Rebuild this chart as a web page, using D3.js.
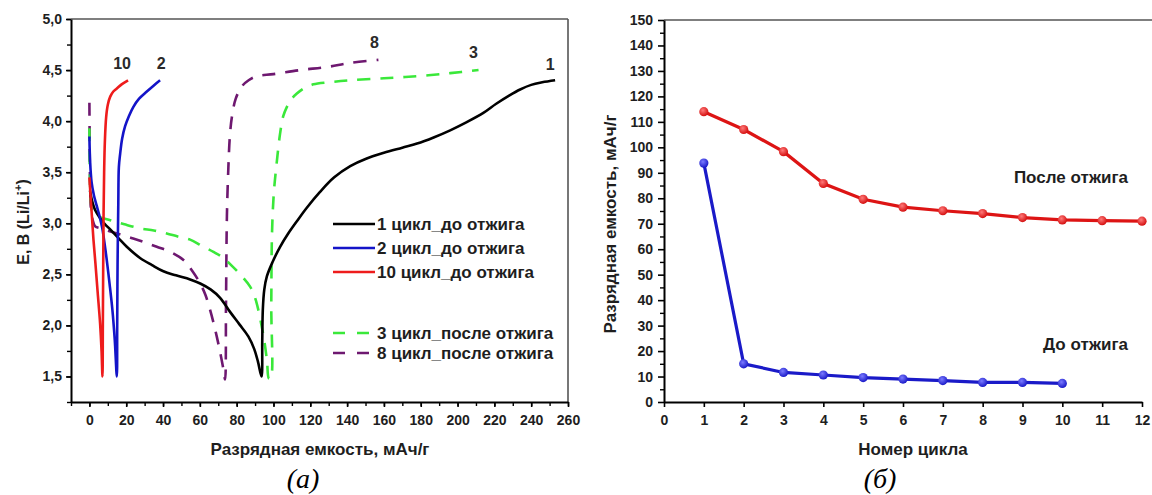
<!DOCTYPE html>
<html><head><meta charset="utf-8">
<script src="https://cdn.jsdelivr.net/npm/d3@7"></script>
<style>
html,body{margin:0;padding:0;background:#fff;}
svg{display:block;font-family:"Liberation Sans",Arial,sans-serif;}
</style></head>
<body>
<svg id="chart" width="1152" height="495"></svg>
<script>
// ---------- DATA: panel (a) — discharge/charge curves [capacity mAh/g, E V] ----------
const cycle1Before = [[0.3,3.32],[1.3,3.23],[3.1,3.13],[5.8,3.05],[8.5,2.99],[11.3,2.94],[16,2.85],[20.3,2.77],[27.5,2.66],[34,2.59],[40.2,2.53],[47,2.49],[54.7,2.45],[60.2,2.41],[66,2.35],[71,2.27],[76.5,2.13],[81.5,2.01],[86.4,1.89],[89.5,1.77],[91.5,1.65],[93.5,1.5],[93.9,1.85],[94.2,2.15],[95,2.35],[96.4,2.48],[99.5,2.62],[103.6,2.77],[108,2.9],[112.7,3.02],[118,3.15],[125.4,3.31],[133,3.45],[141.7,3.56],[150,3.63],[160,3.69],[170,3.74],[178,3.78],[187,3.84],[196,3.91],[205,3.99],[214,4.08],[221,4.17],[228,4.25],[234,4.31],[240,4.355],[246,4.38],[253,4.40]];
const cycle2Before = [[0,3.85],[0.4,3.6],[1.2,3.4],[2.5,3.27],[4,3.17],[5.5,3.07],[7,2.95],[9,2.7],[11,2.4],[12.5,2.15],[13.8,1.85],[14.9,1.5],[15.1,2.0],[15.3,2.6],[15.7,3.2],[16.0,3.55],[16.7,3.68],[17.8,3.83],[19.4,3.95],[21.5,4.05],[23.9,4.14],[27,4.22],[31.2,4.29],[35,4.35],[38.4,4.40]];
const cycle10Before = [[0,3.45],[0.8,3.22],[1.5,3.03],[2.2,2.84],[3.3,2.6],[4.5,2.32],[5.8,2.02],[6.6,1.75],[7.1,1.5],[7.3,2.0],[7.5,2.6],[7.7,3.1],[8.0,3.5],[8.4,3.8],[9.1,4.04],[10,4.16],[11.3,4.24],[13,4.29],[14.9,4.32],[17.5,4.36],[21,4.40]];
const cycle3After = [[0,3.93],[0.1,3.7],[0.3,3.45],[0.8,3.22],[2,3.1],[5.8,3.06],[11.3,3.03],[19,2.99],[27.6,2.95],[35,2.93],[42,2.9],[48,2.87],[54.7,2.84],[61,2.78],[67.4,2.72],[72.8,2.66],[77,2.59],[81.9,2.5],[87.3,2.38],[90,2.27],[91.8,2.15],[93.5,2.0],[95,1.85],[96.5,1.65],[97.5,1.48],[98.5,1.48],[98.8,2.2],[99.2,2.9],[100.2,3.3],[101.8,3.6],[103.6,3.88],[105.3,4.05],[107.3,4.14],[109.5,4.21],[112.7,4.27],[116.5,4.32],[121.7,4.36],[130,4.38],[141.7,4.40],[160,4.42],[178,4.44],[196,4.47],[211.4,4.50]];
const cycle8After = [[0,4.18],[0.1,3.9],[0.2,3.6],[0.4,3.35],[0.8,3.15],[1.8,3.03],[3.1,2.97],[6,2.95],[9.4,2.93],[15,2.9],[22.1,2.86],[29,2.82],[36.6,2.77],[44,2.72],[51.1,2.64],[56,2.53],[60.2,2.41],[63,2.3],[65.6,2.15],[67.5,2.02],[69.2,1.89],[71,1.74],[72.8,1.57],[73.7,1.47],[74.2,2.2],[74.7,3.07],[75.5,3.55],[76.3,3.85],[77.4,4.04],[79.5,4.22],[82.8,4.34],[86.5,4.4],[91,4.44],[100,4.46],[114.5,4.5],[129,4.53],[141.7,4.57],[157,4.60]];

const legendLabels = ["1 цикл_до отжига","2 цикл_до отжига","10 цикл_до отжига","3 цикл_после отжига","8 цикл_после отжига"];
const curveNumbers = ["1","2","10","3","8"];
const xTicksA = [0,20,40,60,80,100,120,140,160,180,200,220,240,260];
const yTicksA = [1.5,2.0,2.5,3.0,3.5,4.0,4.5,5.0];

// ---------- DATA: panel (б) — capacity vs cycle number ----------
const cycleNumbers = [1,2,3,4,5,6,7,8,9,10,11,12];
const capacityAfter = [114,107,98.3,85.8,79.6,76.5,75.1,74.0,72.4,71.5,71.2,71.0];
const capacityBefore = [93.8,15.0,11.6,10.6,9.6,9.0,8.4,7.7,7.7,7.3];
const xTicksB = [0,1,2,3,4,5,6,7,8,9,10,11,12];
const yTicksB = [0,10,20,30,40,50,60,70,80,90,100,110,120,130,140,150];

// ---------- STYLE ----------
const svg = d3.select("#chart");
const txt = "#1e1e1e";
const tickFont = 14, labFont = 17;
const curveColors = ["#000000","#1414c8","#ee1c1c","#3ae83a","#6e1870"];
const curveDash = [null,null,null,"13,10","13,10"];

// ===== Panel (a) =====
const xA = d3.scaleLinear().domain([-10,260]).range([71,568]);
const yA = d3.scaleLinear().domain([1.25,5]).range([402,19]);
const gA = svg.append("g");

gA.append("line").attr("x1",xA(-10)).attr("x2",xA(260)).attr("y1",yA(5)).attr("y2",yA(5)).attr("stroke","#555").attr("stroke-width",1.6);
gA.append("line").attr("x1",xA(260)).attr("x2",xA(260)).attr("y1",yA(5)).attr("y2",yA(1.25)).attr("stroke","#555").attr("stroke-width",1.6);

const fmtComma = d => d.toFixed(1).replace(".",",");
gA.append("g").attr("transform",`translate(0,${yA(1.25)})`)
  .call(d3.axisBottom(xA).tickValues(d3.range(-10,261,10)).tickFormat("").tickSize(4).tickSizeOuter(0))
  .call(g=>g.select(".domain").remove()).selectAll("line").attr("stroke","#000").attr("stroke-width",1.4);
gA.append("g").attr("transform",`translate(${xA(-10)},0)`)
  .call(d3.axisLeft(yA).tickValues(d3.range(1.25,5.01,0.25)).tickFormat("").tickSize(4).tickSizeOuter(0))
  .call(g=>g.select(".domain").remove()).selectAll("line").attr("stroke","#000").attr("stroke-width",1.4);
const axXA = gA.append("g").attr("transform",`translate(0,${yA(1.25)})`)
  .call(d3.axisBottom(xA).tickValues(xTicksA).tickFormat(d3.format("d")).tickSize(5).tickPadding(8).tickSizeOuter(0));
const axYA = gA.append("g").attr("transform",`translate(${xA(-10)},0)`)
  .call(d3.axisLeft(yA).tickValues(yTicksA).tickFormat(fmtComma).tickSize(5).tickPadding(4).tickSizeOuter(0));
[axXA,axYA].forEach(a=>{
  a.select(".domain").attr("stroke","#000").attr("stroke-width",2);
  a.selectAll("line").attr("stroke","#000").attr("stroke-width",1.6);
  a.selectAll("text").attr("fill",txt).attr("font-size",tickFont).attr("font-weight","bold").attr("font-family","'Liberation Sans',Arial,sans-serif");
});

const lineA = d3.line().x(d=>xA(d[0])).y(d=>yA(d[1])).curve(d3.curveCatmullRom.alpha(0.5));
const seriesA = [cycle1Before,cycle2Before,cycle10Before,cycle3After,cycle8After];
const drawOrder = [4,3,0,1,2];
drawOrder.forEach(i=>{
  gA.append("path").datum(seriesA[i]).attr("d",lineA).attr("fill","none")
    .attr("stroke",curveColors[i]).attr("stroke-width",2.6)
    .attr("stroke-dasharray",curveDash[i]).attr("stroke-linejoin","round");
});

const numOffsets = [[-5,-16],[1,-17],[-6,-17],[-5,-18],[-4,-17]];
seriesA.forEach((s,i)=>{
  const last = s[s.length-1];
  gA.append("text").attr("x",xA(last[0])+numOffsets[i][0]).attr("y",yA(last[1])+numOffsets[i][1])
    .attr("text-anchor","middle").attr("dy","0.35em").attr("font-size",16).attr("font-weight","bold")
    .attr("fill","#2a2a2a").text(curveNumbers[i]);
});

const legRows = [224,248,272,333,353];
legendLabels.forEach((lab,i)=>{
  gA.append("line").attr("x1",333).attr("x2",i<3?375:372).attr("y1",legRows[i]).attr("y2",legRows[i])
    .attr("stroke",curveColors[i]).attr("stroke-width",2.6).attr("stroke-dasharray",i<3?null:"12,12");
  gA.append("text").attr("x",377).attr("y",legRows[i]).attr("dy","0.36em").attr("font-size",labFont)
    .attr("font-weight","bold").attr("fill",txt).text(lab);
});

gA.append("text").attr("x",320).attr("y",449).attr("dy","0.35em").attr("text-anchor","middle")
  .attr("font-size",labFont).attr("font-weight","bold").attr("fill",txt).text("Разрядная емкость, мАч/г");
const yt = gA.append("text").attr("transform","translate(23,222) rotate(-90)").attr("text-anchor","middle")
  .attr("dy","0.35em").attr("font-size",16).attr("font-weight","bold").attr("fill",txt);
yt.append("tspan").text("E, B (Li/Li");
yt.append("tspan").attr("font-size",11).attr("dy","-0.6em").text("+");
yt.append("tspan").attr("dy","0.4em").text(")");

svg.append("text").attr("x",303).attr("y",488).attr("text-anchor","middle")
  .attr("font-family","'Liberation Serif','Times New Roman',serif").attr("font-style","italic")
  .attr("font-size",28).attr("fill","#000").text("(a)");

// ===== Panel (б) =====
const xB = d3.scaleLinear().domain([0,12]).range([664,1142]);
const yB = d3.scaleLinear().domain([0,150]).range([402,20]);
const gB = svg.append("g");

gB.append("line").attr("x1",xB(0)).attr("x2",1152).attr("y1",yB(150)).attr("y2",yB(150)).attr("stroke","#555").attr("stroke-width",1.6);

gB.append("g").attr("transform",`translate(${xB(0)},0)`)
  .call(d3.axisLeft(yB).tickValues(d3.range(5,150,10)).tickFormat("").tickSize(4).tickSizeOuter(0))
  .call(g=>g.select(".domain").remove()).selectAll("line").attr("stroke","#000").attr("stroke-width",1.4);
const axXB = gB.append("g").attr("transform",`translate(0,${yB(0)})`)
  .call(d3.axisBottom(xB).tickValues(xTicksB).tickFormat(d3.format("d")).tickSize(5).tickPadding(8).tickSizeOuter(0));
const axYB = gB.append("g").attr("transform",`translate(${xB(0)},0)`)
  .call(d3.axisLeft(yB).tickValues(yTicksB).tickFormat(d3.format("d")).tickSize(6).tickPadding(5).tickSizeOuter(0));
[axXB,axYB].forEach(a=>{
  a.select(".domain").attr("stroke","#000").attr("stroke-width",2);
  a.selectAll("line").attr("stroke","#000").attr("stroke-width",1.6);
  a.selectAll("text").attr("fill",txt).attr("font-size",tickFont).attr("font-weight","bold").attr("font-family","'Liberation Sans',Arial,sans-serif");
});

const defs = svg.append("defs");
function grad(id,light,dark){
  const g = defs.append("radialGradient").attr("id",id).attr("cx","40%").attr("cy","35%").attr("r","65%");
  g.append("stop").attr("offset","0%").attr("stop-color",light);
  g.append("stop").attr("offset","100%").attr("stop-color",dark);
}
grad("gRed","#ff7a7a","#d40f0f");
grad("gBlue","#7a7aff","#1a1ac8");

const lineB = d3.line().x(d=>xB(d[0])).y(d=>yB(d[1]));
const afterPts = cycleNumbers.map((c,i)=>[c,capacityAfter[i]]);
const beforePts = cycleNumbers.slice(0,capacityBefore.length).map((c,i)=>[c,capacityBefore[i]]);
[[afterPts,"#dd1414","url(#gRed)"],[beforePts,"#1a1ac8","url(#gBlue)"]].forEach(([pts,col,fill])=>{
  gB.append("path").datum(pts).attr("d",lineB).attr("fill","none").attr("stroke",col).attr("stroke-width",3.2);
  gB.selectAll(null).data(pts).enter().append("circle").attr("cx",d=>xB(d[0])).attr("cy",d=>yB(d[1]))
    .attr("r",4.6).attr("fill",fill);
});

gB.append("text").attr("x",1128).attr("y",177).attr("dy","0.35em").attr("text-anchor","end")
  .attr("font-size",labFont).attr("font-weight","bold").attr("fill",txt).text("После отжига");
gB.append("text").attr("x",1128).attr("y",344).attr("dy","0.35em").attr("text-anchor","end")
  .attr("font-size",labFont).attr("font-weight","bold").attr("fill",txt).text("До отжига");

gB.append("text").attr("x",913).attr("y",449).attr("dy","0.35em").attr("text-anchor","middle")
  .attr("font-size",labFont).attr("font-weight","bold").attr("fill",txt).text("Номер цикла");
gB.append("text").attr("transform","translate(610,224) rotate(-90)").attr("text-anchor","middle")
  .attr("dy","0.35em").attr("font-size",labFont).attr("font-weight","bold").attr("fill",txt).text("Разрядная емкость, мАч/г");

svg.append("text").attr("x",880).attr("y",488).attr("text-anchor","middle")
  .attr("font-family","'Liberation Serif','Times New Roman',serif").attr("font-style","italic")
  .attr("font-size",28).attr("fill","#000").text("(б)");
</script>
</body></html>
